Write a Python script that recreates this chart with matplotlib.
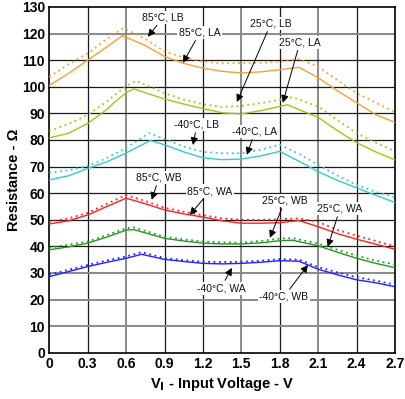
import matplotlib
matplotlib.use("Agg")
import matplotlib.pyplot as plt

plt.rcParams['font.family'] = ['Liberation Sans', 'DejaVu Sans']

# ---- data ----
x_85_la = [0, 0.15, 0.3, 0.45, 0.57, 0.75, 0.9, 1.05, 1.2, 1.35, 1.5, 1.65, 1.8, 1.95, 2.1, 2.25, 2.4, 2.55, 2.7]
y_85_la = [100.5, 105, 110, 115, 119.2, 115.5, 111.4, 108.8, 107, 105.8, 105.2, 105.6, 106.4, 107.3, 103.4, 98.5, 94, 89.5, 86.6]
x_85_lb = [0, 0.15, 0.3, 0.45, 0.58, 0.75, 0.9, 1.05, 1.2, 1.35, 1.5, 1.65, 1.8, 1.95, 2.1, 2.25, 2.4, 2.55, 2.7]
y_85_lb = [103.7, 108.5, 112.5, 118, 122.1, 118, 113.3, 111, 109.5, 108.8, 108.9, 109, 109.5, 110.4, 107.6, 102.5, 97.6, 94, 90.5]

x_25_la = [0, 0.15, 0.3, 0.45, 0.51, 0.6, 0.66, 0.9, 1.05, 1.2, 1.35, 1.5, 1.65, 1.8, 1.86, 2.1, 2.25, 2.4, 2.55, 2.7]
y_25_la = [80.8, 82.5, 86.2, 91.5, 94.2, 97.8, 99.2, 95.4, 93.5, 91.8, 90.2, 89.8, 91, 92.6, 93.2, 88.5, 83.5, 79, 75.5, 72.5]
x_25_lb = [0, 0.15, 0.3, 0.45, 0.6, 0.68, 0.9, 1.05, 1.2, 1.35, 1.5, 1.65, 1.8, 1.9, 2.1, 2.25, 2.4, 2.55, 2.7]
y_25_lb = [83.4, 86, 89.4, 94.5, 100.4, 102.2, 97.6, 95.2, 93.4, 92.4, 92.8, 93.8, 95.1, 96.1, 92.6, 87.5, 82.6, 79, 75.7]

x_m40_la = [0, 0.15, 0.3, 0.45, 0.6, 0.79, 0.9, 1.05, 1.2, 1.35, 1.5, 1.65, 1.8, 1.95, 2.1, 2.25, 2.4, 2.55, 2.7]
y_m40_la = [65, 66.5, 69.3, 71.8, 75.1, 79.8, 78.2, 75.5, 73.3, 72.6, 72.8, 74, 75.7, 72, 68.1, 64.8, 62, 59.2, 56.5]
x_m40_lb = [0, 0.15, 0.3, 0.45, 0.6, 0.78, 0.9, 1.05, 1.2, 1.35, 1.5, 1.65, 1.8, 1.95, 2.1, 2.25, 2.4, 2.55, 2.7]
y_m40_lb = [67.7, 68.6, 70.2, 73.2, 77, 82.6, 80.3, 77.5, 75.5, 75, 75, 76.3, 78.2, 74.8, 70.6, 66.6, 63.1, 60.5, 58.5]

x_85_wa = [0, 0.15, 0.3, 0.45, 0.6, 0.75, 0.9, 1.05, 1.2, 1.35, 1.5, 1.65, 1.8, 1.95, 2.1, 2.25, 2.4, 2.55, 2.7]
y_85_wa = [48.4, 49.6, 51.8, 55, 58.1, 56, 53.7, 52.2, 51, 49.6, 48.7, 48.7, 48.9, 49.7, 47.4, 44.8, 42.7, 40.8, 38.9]
x_85_wb = x_85_wa
y_85_wb = [49.3, 50.5, 52.6, 56, 59.3, 57, 54.5, 53, 51.7, 50.5, 50, 50, 50.2, 50.5, 49.2, 46.2, 44, 42, 40]

x_25_wa = [0, 0.15, 0.3, 0.45, 0.6, 0.66, 0.9, 1.05, 1.2, 1.35, 1.5, 1.65, 1.8, 1.9, 2.1, 2.25, 2.4, 2.55, 2.7]
y_25_wa = [38.7, 39.8, 41.2, 43.5, 46.1, 46.3, 43, 42, 41.2, 40.9, 40.9, 41.3, 42.1, 42.3, 40.2, 37.8, 35.5, 33.6, 32]
x_25_wb = x_25_wa
y_25_wb = [39.5, 40.6, 41.8, 44.2, 46.8, 47.1, 43.6, 42.6, 41.8, 41.5, 41.4, 42, 42.9, 43.1, 41, 38.7, 36.5, 34.6, 33.2]

x_m40_wa = [0, 0.15, 0.3, 0.45, 0.6, 0.72, 0.9, 1.05, 1.2, 1.35, 1.5, 1.65, 1.8, 1.95, 2.1, 2.25, 2.4, 2.55, 2.7]
y_m40_wa = [28.6, 30.5, 32.4, 34, 35.5, 37, 35.1, 34.3, 33.6, 33.4, 33.6, 34, 34.6, 34.4, 31.4, 29.3, 27.4, 26.3, 24.8]
x_m40_wb = x_m40_wa
y_m40_wb = [29.3, 31.2, 33, 34.7, 36.2, 37.8, 35.6, 34.8, 34.2, 34.1, 34.2, 34.6, 35.2, 35, 32.2, 30.2, 28.4, 27.1, 25.6]

# annotations: label, tip (V, ohm), text position (V, ohm)
ann_labels = ["85°C, LB", "85°C, LA", "25°C, LB", "25°C, LA", "-40°C, LB", "-40°C, LA",
              "85°C, WB", "85°C, WA", "25°C, WB", "25°C, WA", "-40°C, WA", "-40°C, WB"]
ann_tip = [(0.77, 118.8), (1.044, 109.0), (1.465, 94.3), (1.824, 94.0), (1.122, 78.1), (1.543, 74.4),
           (0.80, 57.5), (1.098, 51.8), (1.723, 43.2), (2.175, 39.8), (1.426, 31.9), (2.02, 33.0)]
ann_text = [(0.888, 126.0), (1.176, 120.3), (1.73, 123.7), (1.957, 116.6), (1.153, 85.7), (1.606, 83.1),
            (0.857, 65.8), (1.254, 60.8), (1.84, 57.1), (2.27, 54.1), (1.34, 24.3), (1.832, 21.0)]

xticks = [0, 0.3, 0.6, 0.9, 1.2, 1.5, 1.8, 2.1, 2.4, 2.7]
xtick_labels = ["0", "0.3", "0.6", "0.9", "1.2", "1.5", "1.8", "2.1", "2.4", "2.7"]
yticks = list(range(0, 131, 10))

c_orange = "#F7A030"
c_yg = "#99CC11"
c_cyan = "#33CCCC"
c_red = "#FF2020"
c_green = "#229922"
c_blue = "#2222FF"

fig = plt.figure(figsize=(4.05, 3.99), dpi=100)
ax = fig.add_axes([0.1217, 0.116, 0.8536, 0.8665])

ax.set_xlim(0, 2.7)
ax.set_ylim(0, 130)

# grid lines (mix of dark and gray as in the scan)
gray_x = [0.6, 1.5, 2.1]
for xv in xticks[1:-1]:
    if xv in gray_x:
        ax.axvline(xv, color="#8a8a8a", lw=1.4, zorder=1)
    else:
        ax.axvline(xv, color="#1a1a1a", lw=0.9, zorder=1)
gray_y = [10, 20, 30, 120]
for yv in yticks[1:-1]:
    if yv in gray_y:
        ax.axhline(yv, color="#8a8a8a", lw=1.4, zorder=1)
    else:
        ax.axhline(yv, color="#1a1a1a", lw=0.9, zorder=1)

lw = 1.0
ax.plot(x_85_la, y_85_la, color=c_orange, lw=lw, zorder=3)
ax.plot(x_85_lb, y_85_lb, color=c_orange, lw=1.3, ls=(0, (1, 2)), zorder=3)
ax.plot(x_25_la, y_25_la, color=c_yg, lw=lw, zorder=3)
ax.plot(x_25_lb, y_25_lb, color=c_yg, lw=1.3, ls=(0, (1, 2)), zorder=3)
ax.plot(x_m40_la, y_m40_la, color=c_cyan, lw=lw, zorder=3)
ax.plot(x_m40_lb, y_m40_lb, color=c_cyan, lw=1.3, ls=(0, (1, 2)), zorder=3)
ax.plot(x_85_wa, y_85_wa, color=c_red, lw=lw, zorder=3)
ax.plot(x_85_wb, y_85_wb, color=c_red, lw=1.3, ls=(0, (1, 2)), zorder=3)
ax.plot(x_25_wa, y_25_wa, color=c_green, lw=lw, zorder=3)
ax.plot(x_25_wb, y_25_wb, color=c_green, lw=1.3, ls=(0, (1, 2)), zorder=3)
ax.plot(x_m40_wa, y_m40_wa, color=c_blue, lw=lw, zorder=3)
ax.plot(x_m40_wb, y_m40_wb, color=c_blue, lw=1.3, ls=(0, (1, 2)), zorder=3)

for lab, tip, txt in zip(ann_labels, ann_tip, ann_text):
    ax.annotate(lab, xy=tip, xytext=txt, ha="center", va="center",
                fontsize=7.5, color="#111111", zorder=5,
                bbox=dict(boxstyle="square,pad=0.15", fc="white", ec="none"),
                arrowprops=dict(arrowstyle="-|>", color="black", lw=0.7,
                                mutation_scale=11, shrinkA=1, shrinkB=0))

ax.set_xticks(xticks)
ax.set_xticklabels(xtick_labels)
ax.set_yticks(yticks)
ax.tick_params(axis="both", length=0, labelsize=10, pad=3)
for t in ax.get_xticklabels() + ax.get_yticklabels():
    t.set_fontweight("bold")

for s in ax.spines.values():
    s.set_color("black")
    s.set_linewidth(1.2)

ax.set_xlabel("V$_\\mathbf{I}$ - Input Voltage - V", fontsize=10.5, fontweight="bold")
ax.set_ylabel("Resistance - Ω", fontsize=10.5, fontweight="bold")
ax.yaxis.set_label_coords(-0.082, 0.5)
ax.xaxis.set_label_coords(0.5, -0.064)

fig.savefig("out.png", dpi=100)
